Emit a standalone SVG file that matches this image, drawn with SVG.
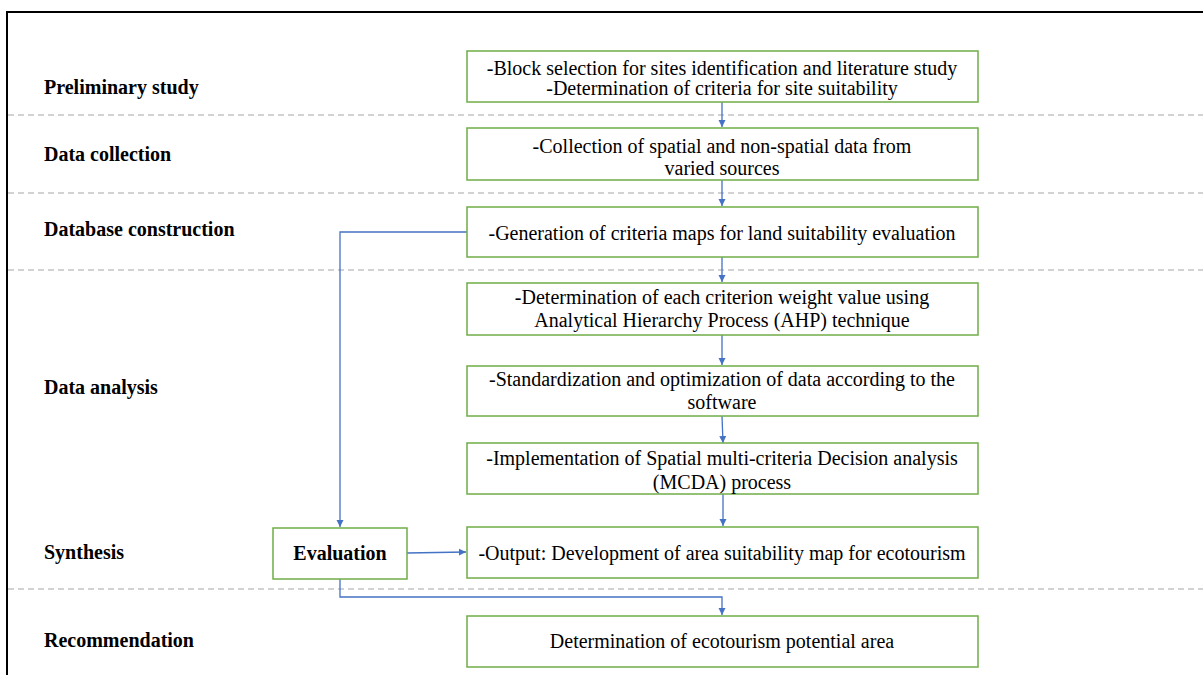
<svg xmlns="http://www.w3.org/2000/svg" width="1203" height="675" viewBox="0 0 1203 675">
<style>
.box{fill:#fff;stroke:#70AD47;stroke-width:1.5}
.t{font-size:20px;fill:#000;text-anchor:middle}
.lab{font-size:20px;font-weight:bold;fill:#000}
.dash{stroke:#A6A6A6;stroke-width:1.2;stroke-dasharray:6,4;fill:none}
.c{stroke:#4472C4;stroke-width:1.3;fill:none}
</style>
<defs>
<marker id="ah" markerWidth="8" markerHeight="8" refX="7" refY="4" orient="auto" markerUnits="userSpaceOnUse">
<path d="M0,0.5 L7,4 L0,7.5 Z" fill="#4472C4"/>
</marker>
</defs>
<rect width="1203" height="675" fill="#fff"/>
<g id="frame">
<line x1="7" y1="12" x2="1203" y2="12" stroke="#000" stroke-width="2"/>
<line x1="7" y1="11" x2="7" y2="675" stroke="#000" stroke-width="2"/>
</g>
<g id="separators">
<line class="dash" x1="8" y1="115" x2="1203" y2="115"/>
<line class="dash" x1="8" y1="193" x2="1203" y2="193"/>
<line class="dash" x1="8" y1="270" x2="1203" y2="270"/>
<line class="dash" x1="8" y1="589" x2="1203" y2="589"/>
</g>
<g id="stage-labels" font-family="Liberation Serif, Times New Roman, DejaVu Serif, serif">
<text class="lab" x="44" y="94">Preliminary study</text>
<text class="lab" x="44" y="161">Data collection</text>
<text class="lab" x="44" y="236">Database construction</text>
<text class="lab" x="44" y="394">Data analysis</text>
<text class="lab" x="44" y="559">Synthesis</text>
<text class="lab" x="44" y="647">Recommendation</text>
</g>
<g id="connectors">
<line class="c" x1="722" y1="102" x2="722" y2="127" marker-end="url(#ah)"/>
<line class="c" x1="722" y1="180" x2="722" y2="206" marker-end="url(#ah)"/>
<line class="c" x1="722" y1="257" x2="722" y2="282" marker-end="url(#ah)"/>
<line class="c" x1="722" y1="335" x2="722" y2="365" marker-end="url(#ah)"/>
<line class="c" x1="722" y1="416" x2="723" y2="443" marker-end="url(#ah)"/>
<line class="c" x1="723" y1="494" x2="723" y2="526" marker-end="url(#ah)"/>
<polyline class="c" points="467,232 340,232 340,527" marker-end="url(#ah)"/>
<line class="c" x1="407" y1="553" x2="466" y2="552" marker-end="url(#ah)"/>
<polyline class="c" points="340,579 340,597 722,597 722,615" marker-end="url(#ah)"/>
</g>
<g id="nodes" font-family="Liberation Serif, Times New Roman, DejaVu Serif, serif">
<g id="n1">
<rect class="box" x="467" y="51" width="511" height="51"/>
<text class="t" x="722" y="75">-Block selection for sites identification and literature study</text>
<text class="t" x="722" y="95">-Determination of criteria for site suitability</text>
</g>
<g id="n2">
<rect class="box" x="467" y="128" width="511" height="52"/>
<text class="t" x="722" y="153">-Collection of spatial and non-spatial data from</text>
<text class="t" x="722" y="175">varied sources</text>
</g>
<g id="n3">
<rect class="box" x="467" y="207" width="511" height="50"/>
<text class="t" x="722" y="240">-Generation of criteria maps for land suitability evaluation</text>
</g>
<g id="n4">
<rect class="box" x="467" y="283" width="511" height="52"/>
<text class="t" x="722" y="304">-Determination of each criterion weight value using</text>
<text class="t" x="722" y="327">Analytical Hierarchy Process (AHP) technique</text>
</g>
<g id="n5">
<rect class="box" x="467" y="366" width="511" height="50"/>
<text class="t" x="722" y="386">-Standardization and optimization of data according to the</text>
<text class="t" x="722" y="409">software</text>
</g>
<g id="n6">
<rect class="box" x="467" y="443" width="511" height="51"/>
<text class="t" x="722" y="465">-Implementation of Spatial multi-criteria Decision analysis</text>
<text class="t" x="722" y="489">(MCDA) process</text>
</g>
<g id="n7">
<rect class="box" x="467" y="527" width="511" height="51"/>
<text class="t" x="722" y="560">-Output: Development of area suitability map for ecotourism</text>
</g>
<g id="n-eval">
<rect class="box" x="273" y="528" width="134" height="51"/>
<text class="lab" x="340" y="560" text-anchor="middle">Evaluation</text>
</g>
<g id="n8">
<rect class="box" x="467" y="616" width="511" height="51"/>
<text class="t" x="722" y="648">Determination of ecotourism potential area</text>
</g>
</g>
</svg>
